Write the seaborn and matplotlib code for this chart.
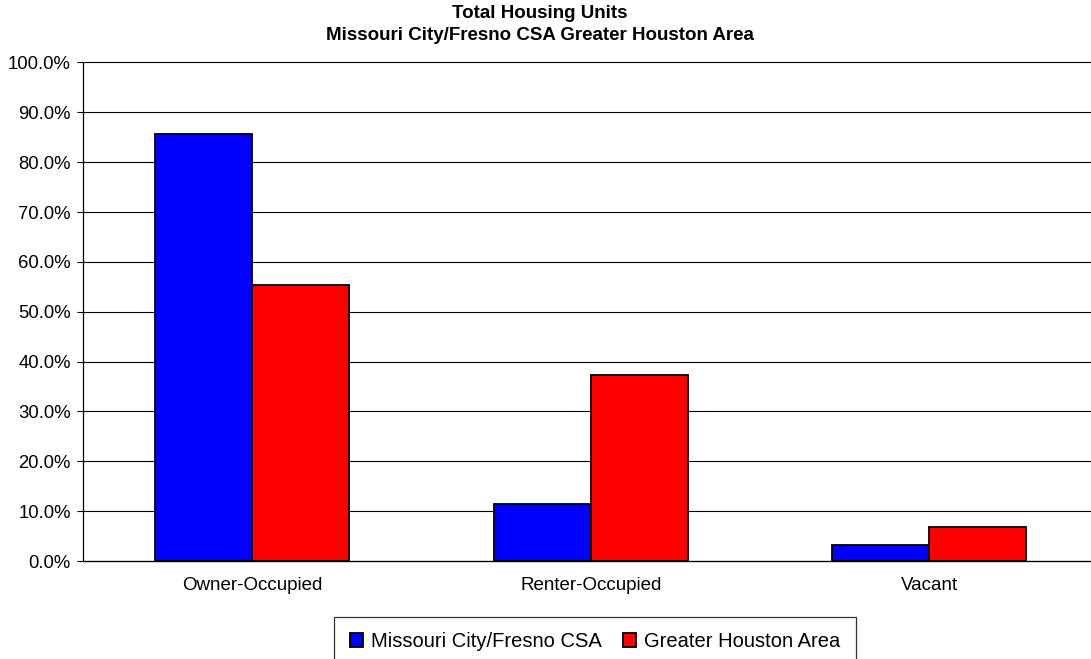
import pandas as pd
import numpy as np
import matplotlib.pyplot as plt
import seaborn as sns

categories = ['Owner-Occupied', 'Renter-Occupied', 'Vacant']
series_names = ['Missouri City/Fresno CSA', 'Greater Houston Area']
missouri_vals = [85.6, 11.4, 3.2]
houston_vals = [55.4, 37.3, 6.8]
y_ticks = [0, 10, 20, 30, 40, 50, 60, 70, 80, 90, 100]

df = pd.DataFrame({
    'category': categories * 2,
    'series': [series_names[0]] * 3 + [series_names[1]] * 3,
    'value': missouri_vals + houston_vals,
})

sns.set_style('white')
plt.rcParams['font.family'] = ['Liberation Sans', 'DejaVu Sans']
plt.rcParams['text.color'] = 'black'
plt.rcParams['xtick.color'] = 'black'
plt.rcParams['ytick.color'] = 'black'

W, H = 1091, 659
fig = plt.figure(figsize=(W / 100, H / 100), dpi=100)
# axes run a little past the right edge, like the original
ax = fig.add_axes([83 / W, 1 - 561 / H, 1015.5 / W, (561 - 62.5) / H])

sns.barplot(data=df, x='category', y='value', hue='series',
            palette=['#0000FF', '#FF0000'], width=0.574,
            edgecolor='black', linewidth=1.3, saturation=1, ax=ax)

ax.set_ylim(0, 100)
ax.set_xlim(-0.5, 2.5)
ax.set_yticks(y_ticks)
ax.set_yticklabels([f'{v:.1f}%' for v in y_ticks], fontsize=13.3)
ax.yaxis.grid(True, color='black', linewidth=0.8)
for gl in ax.get_ygridlines():
    gl.set_clip_on(False)
ax.set_axisbelow(True)

# category ticks sit between groups
ax.set_xticks([0, 1, 2])
ax.set_xticklabels(categories, fontsize=13.5)
ax.set_xticks([0.5, 1.5], minor=True)
ax.tick_params(axis='x', which='major', length=0, pad=11.4)
ax.tick_params(axis='x', which='minor', length=4.5, width=0.8, color='black', direction='out')
ax.tick_params(axis='y', length=4, width=0.8, color='black', direction='out', left=True, pad=4.7)

for side in ['top', 'right']:
    ax.spines[side].set_visible(False)
for side in ['left', 'bottom']:
    ax.spines[side].set_color('black')
    ax.spines[side].set_linewidth(0.9)

ax.set_xlabel('')
ax.set_ylabel('')

fig.text(540 / W, 1 - 13 / H, 'Total Housing Units', ha='center', va='center',
         fontsize=13.5, fontweight='bold')
fig.text(540 / W, 1 - 36 / H, 'Missouri City/Fresno CSA Greater Houston Area',
         ha='center', va='center', fontsize=13.5, fontweight='bold')

handles, labels = ax.get_legend_handles_labels()
ax.legend_.remove()
leg = fig.legend(handles, labels, loc='upper center', ncol=2,
                 bbox_to_anchor=(595 / W, 1 - 617 / H), fontsize=14.5,
                 frameon=True, fancybox=False, edgecolor='black',
                 handlelength=0.66, handleheight=0.66, handletextpad=0.4,
                 columnspacing=1.05, borderpad=0.75, borderaxespad=0)
leg.get_frame().set_linewidth(0.9)

fig.savefig('out.png', dpi=100, facecolor='white')
